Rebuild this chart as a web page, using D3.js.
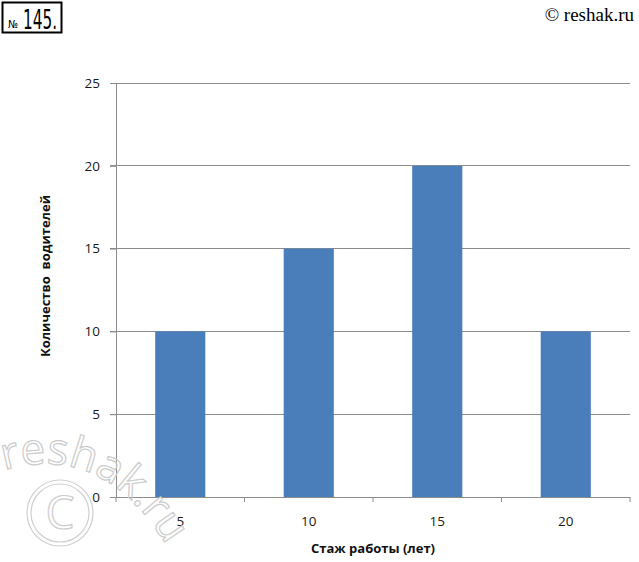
<!DOCTYPE html>
<html><head><meta charset="utf-8">
<script src="https://cdn.jsdelivr.net/npm/d3@7"></script>
<style>body{margin:0;background:#fff} text{white-space:pre}</style>
</head><body>
<svg id="c" width="639" height="562"></svg>
<script>
const categories = ["5","10","15","20"];
const values = [10,15,20,10];
const yTicks = [0,5,10,15,20,25];
const xTitle = "Стаж работы (лет)";
const yTitle = "Количество  водителей";

(function(){
const svg = d3.select("#c");
const pLeft = 116, pRight = 630, pTop = 83, pBottom = 497;
const x = d3.scaleBand().domain(categories).range([pLeft,pRight]).paddingInner(0.61).paddingOuter(0.305);
const xb = d3.scaleBand().domain(categories).range([pLeft,pRight]);
const y = d3.scaleLinear().domain([0,25]).range([pBottom,pTop]);
const gridC = "#8c8c8c";

svg.append("g").selectAll("line").data(yTicks.filter(d=>d>0)).join("line")
  .attr("x1",pLeft-6).attr("x2",pRight).attr("y1",d=>y(d)).attr("y2",d=>y(d))
  .attr("stroke",gridC).attr("stroke-width",1).attr("shape-rendering","crispEdges");

svg.append("g").selectAll("rect").data(values).join("rect")
  .attr("x",(d,i)=>x(categories[i])).attr("width",x.bandwidth())
  .attr("y",d=>y(d)).attr("height",d=>y(0)-y(d))
  .attr("fill","#4a7ebb");

const ya = svg.append("g").attr("transform",`translate(${pLeft},0)`)
  .call(d3.axisLeft(y).tickValues(yTicks).tickSize(6).tickPadding(10));
ya.select(".domain").attr("stroke",gridC);
ya.selectAll(".tick line").attr("stroke",gridC);
ya.selectAll("text").attr("font-family","Open Sans").attr("font-size",13.5).attr("fill","#1a1a1a");

const xa = svg.append("g").attr("transform",`translate(0,${pBottom})`)
  .call(d3.axisBottom(xb).tickSize(0).tickPadding(19));
xa.select(".domain").attr("stroke",gridC);
xa.selectAll("text").attr("font-family","Open Sans").attr("font-size",13.5).attr("fill","#1a1a1a");
xa.append("g").selectAll("line").data(d3.range(categories.length+1)).join("line")
  .attr("x1",i=>pLeft+i*xb.step()).attr("x2",i=>pLeft+i*xb.step())
  .attr("y1",0).attr("y2",5).attr("stroke",gridC);

svg.append("text").attr("x",373).attr("y",553).attr("text-anchor","middle")
  .attr("font-family","Open Sans").attr("font-weight","bold").attr("font-size",13).attr("fill","#111").text(xTitle);
svg.append("text").attr("transform","translate(50,276) rotate(-90)").attr("text-anchor","middle")
  .attr("font-family","Open Sans").attr("font-weight","bold").attr("font-size",13).attr("fill","#111").text(yTitle);

svg.append("rect").attr("x",2.5).attr("y",2.5).attr("width",59).attr("height",30)
  .attr("fill","#fff").attr("stroke","#000").attr("stroke-width",2);
svg.append("text").attr("x",8).attr("y",28).attr("font-family","Liberation Sans Narrow, DejaVu Sans Condensed").attr("font-size",11).attr("fill","#000").text("№");
svg.append("text").attr("x",23).attr("y",29).attr("font-family","Liberation Sans Narrow, DejaVu Sans Condensed").attr("font-size",27).attr("fill","#000")
  .attr("textLength",34).attr("lengthAdjust","spacingAndGlyphs").text("145.");
svg.append("text").attr("x",634).attr("y",21).attr("text-anchor","end").attr("font-family","Liberation Serif").attr("font-size",19).attr("fill","#000").text("© reshak.ru");

svg.append("defs").append("path").attr("id","wmp").attr("d","M4,470 Q110,440 175,560");
svg.append("text").attr("font-family","Open Sans").attr("font-size",44).attr("fill","none").attr("stroke","#cccccc").attr("stroke-width",1.2)
  .append("textPath").attr("href","#wmp").text("reshak.ru");
const wm = svg.append("g").attr("fill","none").attr("stroke","#cfcfcf").attr("stroke-width",1.2);
wm.append("circle").attr("cx",60).attr("cy",513).attr("r",33);
wm.append("circle").attr("cx",60).attr("cy",513).attr("r",29);
svg.append("text").attr("x",60).attr("y",529).attr("text-anchor","middle").attr("font-family","Open Sans").attr("font-size",46)
  .attr("fill","none").attr("stroke","#cccccc").attr("stroke-width",1.2).text("C");
})();
</script>
</body></html>
